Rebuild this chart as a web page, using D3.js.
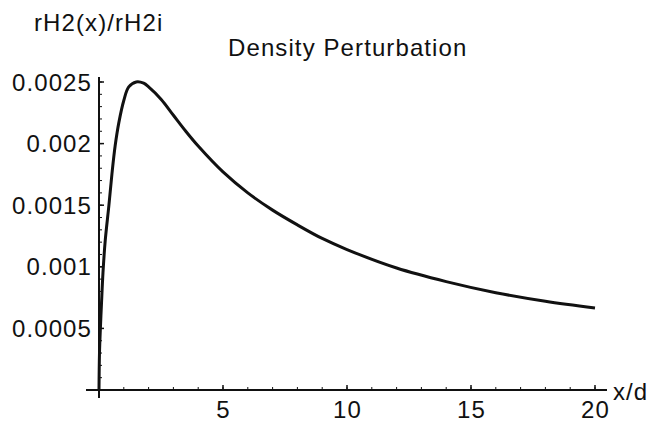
<!DOCTYPE html>
<html>
<head>
<meta charset="utf-8">
<script src="https://cdn.jsdelivr.net/npm/d3@7"></script>
<style>
  body { margin: 0; background: #fff; }
  svg text { font-family: "Liberation Sans", Arial, Helvetica, sans-serif; fill: #111; letter-spacing: 1.1px; }
</style>
</head>
<body>
<div id="chart"></div>
<script>
const xs = [0, 0.02, 0.06, 0.1, 0.16, 0.25, 0.4, 0.52, 0.65, 0.8, 1.0, 1.2, 1.5, 1.8, 2.0, 2.5, 3, 3.5, 4, 5, 6, 7, 8, 9, 10, 12, 14, 16, 18, 20];
const ys = [0, 0.0003, 0.00052, 0.0007, 0.00095, 0.00121, 0.0015, 0.00175, 0.00198, 0.00217, 0.00235, 0.00246, 0.0025, 0.00249, 0.00246,
  0.00236, 0.00223, 0.0021, 0.00198, 0.00177, 0.0016, 0.00146, 0.00134, 0.00123, 0.00114, 0.00099, 0.00088, 0.00079, 0.00072, 0.000665];

const xTicks = [5, 10, 15, 20];
const xMinor = d3.range(1, 21);
const yTicks = [0.0005, 0.001, 0.0015, 0.002, 0.0025];
const yTickLabels = ["0.0005", "0.001", "0.0015", "0.002", "0.0025"];
const yMinor = d3.range(1, 26).map(i => i * 0.0001);

const title = "Density Perturbation";
const yTitle = "rH2(x)/rH2i";
const xTitle = "x/d";

const W = 660, H = 424;
const x = d3.scaleLinear().domain([0, 20]).range([99, 595]);
const y = d3.scaleLinear().domain([0, 0.0025]).range([390, 82]);

const svg = d3.select("#chart").append("svg").attr("width", W).attr("height", H);

// axes lines (Mathematica style, crossing at origin and running a bit past)
svg.append("line").attr("x1", 86).attr("x2", 607).attr("y1", y(0)).attr("y2", y(0))
  .attr("stroke", "#111").attr("stroke-width", 2);
svg.append("line").attr("x1", x(0)).attr("x2", x(0)).attr("y1", 398).attr("y2", 77)
  .attr("stroke", "#111").attr("stroke-width", 2);

// minor ticks
svg.selectAll(".xminor").data(xMinor).join("line")
  .attr("x1", d => x(d)).attr("x2", d => x(d))
  .attr("y1", y(0)).attr("y2", y(0) - 3)
  .attr("stroke", "#111").attr("stroke-width", 1);
svg.selectAll(".yminor").data(yMinor).join("line")
  .attr("x1", x(0)).attr("x2", x(0) + 3)
  .attr("y1", d => y(d)).attr("y2", d => y(d))
  .attr("stroke", "#111").attr("stroke-width", 1);

// major ticks
svg.selectAll(".xmajor").data(xTicks).join("line")
  .attr("x1", d => x(d)).attr("x2", d => x(d))
  .attr("y1", y(0)).attr("y2", y(0) - 5)
  .attr("stroke", "#111").attr("stroke-width", 1.5);
svg.selectAll(".ymajor").data(yTicks).join("line")
  .attr("x1", x(0)).attr("x2", x(0) + 5)
  .attr("y1", d => y(d)).attr("y2", d => y(d))
  .attr("stroke", "#111").attr("stroke-width", 1.5);

// tick labels
svg.selectAll(".xlab").data(xTicks).join("text")
  .attr("x", d => x(d) + 0.5).attr("y", 418)
  .attr("text-anchor", "middle")
  .style("font-size", "24px")
  .text(d => d);
svg.selectAll(".ylab").data(yTicks).join("text")
  .attr("x", 92).attr("y", d => y(d) + 8.5)
  .attr("text-anchor", "end")
  .style("font-size", "24px")
  .text((d, i) => yTickLabels[i]);

// titles
svg.append("text").attr("x", 228).attr("y", 56)
  .style("font-size", "24px").text(title);
svg.append("text").attr("x", 34).attr("y", 31)
  .style("font-size", "24px").text(yTitle);
svg.append("text").attr("x", 613).attr("y", 400)
  .style("font-size", "24px").text(xTitle);

// the curve
const pts = xs.map((v, i) => [v, ys[i]]);
svg.append("path")
  .datum(pts)
  .attr("fill", "none")
  .attr("stroke", "#111")
  .attr("stroke-width", 3)
  .attr("stroke-linejoin", "round")
  .attr("d", d3.line().x(d => x(d[0])).y(d => y(d[1])).curve(d3.curveCatmullRom.alpha(0.5)));
</script>
</body>
</html>
